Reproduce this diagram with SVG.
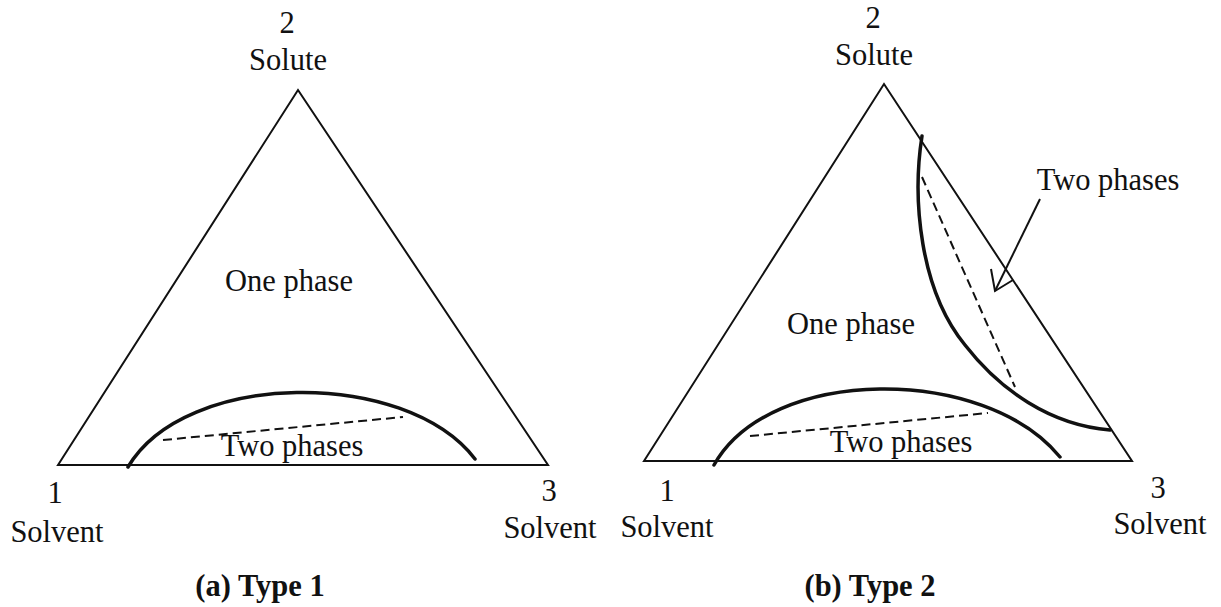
<svg xmlns="http://www.w3.org/2000/svg" width="1221" height="607" viewBox="0 0 1221 607">
<style>
  .t { font-family: "Liberation Serif", "Times New Roman", serif; font-size: 30.5px; fill: #111; }
  .cap { font-family: "Liberation Serif", "Times New Roman", serif; font-size: 30.5px; font-weight: bold; fill: #111; }
  .tri { fill: none; stroke: #111; stroke-width: 2; stroke-linejoin: miter; }
  .bin { fill: none; stroke: #111; stroke-width: 3.5; stroke-linecap: round; }
  .tie { fill: none; stroke: #111; stroke-width: 2; stroke-dasharray: 9 5; }
  .arr { fill: none; stroke: #111; stroke-width: 2; }
</style>
<rect width="1221" height="607" fill="#fff"/>

<g id="diagram-a">
  <polygon class="tri" points="58,465 298,90 548,465"/>
  <g id="a-vertex-2">
    <text class="t" x="287" y="33" text-anchor="middle">2</text>
    <text class="t" x="288" y="70" text-anchor="middle">Solute</text>
  </g>
  <g id="a-vertex-1">
    <text class="t" x="55" y="503" text-anchor="middle">1</text>
    <text class="t" x="57" y="542" text-anchor="middle">Solvent</text>
  </g>
  <g id="a-vertex-3">
    <text class="t" x="549" y="501" text-anchor="middle">3</text>
    <text class="t" x="550" y="538" text-anchor="middle">Solvent</text>
  </g>
  <g id="a-one-phase">
    <text class="t" x="289" y="291" text-anchor="middle">One phase</text>
  </g>
  <g id="a-binodal">
    <path class="bin" d="M128,467 C185,370 405,368 475,459"/>
    <text class="t" x="292" y="456" text-anchor="middle">Two phases</text>
  </g>
  <text class="cap" x="260" y="596" text-anchor="middle">(a) Type 1</text>
</g>

<g id="diagram-b">
  <polygon class="tri" points="644,461 884,84 1132,461"/>
  <g id="b-vertex-2">
    <text class="t" x="873" y="28" text-anchor="middle">2</text>
    <text class="t" x="874" y="65" text-anchor="middle">Solute</text>
  </g>
  <g id="b-vertex-1">
    <text class="t" x="667" y="501" text-anchor="middle">1</text>
    <text class="t" x="667" y="537" text-anchor="middle">Solvent</text>
  </g>
  <g id="b-vertex-3">
    <text class="t" x="1158" y="498" text-anchor="middle">3</text>
    <text class="t" x="1160" y="534" text-anchor="middle">Solvent</text>
  </g>
  <g id="b-one-phase">
    <text class="t" x="851" y="334" text-anchor="middle">One phase</text>
  </g>
  <g id="b-binodal-bottom">
    <path class="bin" d="M714,465 C770,365 985,365 1060,457"/>
    <text class="t" x="901" y="452" text-anchor="middle">Two phases</text>
  </g>
  <g id="b-binodal-right">
    <path class="bin" d="M922,136 C912,200 920,290 965,345 C1000,390 1050,425 1110,430"/>
  </g>
  <g id="b-two-phases-label">
    <text class="t" x="1108" y="190" text-anchor="middle">Two phases</text>
  </g>
  <text class="cap" x="870" y="596" text-anchor="middle">(b) Type 2</text>
</g>

<g id="connectors">
  <line class="tie" x1="163" y1="440" x2="403" y2="417"/>
  <line class="tie" x1="750" y1="436" x2="988" y2="413"/>
  <line class="tie" x1="922" y1="177" x2="1015" y2="387"/>
  <line class="arr" x1="1040" y1="199" x2="995" y2="291"/>
  <polyline class="arr" points="991,269 995,291 1013,280"/>
</g>
</svg>
